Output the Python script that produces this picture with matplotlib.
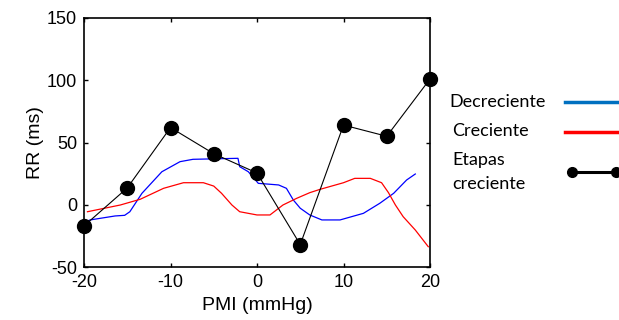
import matplotlib
matplotlib.use("Agg")
import matplotlib.pyplot as plt
from matplotlib.lines import Line2D

plt.rcParams["axes.unicode_minus"] = False

# Pressure steps (mmHg) and RR response (ms) for the stepwise protocol
etapas_pmi = [-20, -15, -10, -5, 0, 5, 10, 15, 20]
etapas_rr = [-17, 13.5, 62, 41, 25.5, -32, 64, 55, 101]

# Continuous ramp, decreasing pressure
dec_pmi = [-19.8, -19.3, -16.4, -15.3, -14.7, -13.3, -11, -8.9, -7.4, -2.2, -2, -1,
           0.15, 2.5, 3.4, 4.2, 5, 6.1, 7.5, 9.6, 12.3, 14.2, 15.8, 17.3, 18.3]
dec_rr = [-14, -12.2, -9, -8.5, -5.6, 9.2, 26.5, 34.6, 36.5, 37.3, 30.6, 26.5,
          17.2, 15.9, 13.2, 3.8, -2.8, -8.2, -12.2, -12.2, -6.9, 1.2, 9.2, 19.9, 24.7]

# Continuous ramp, increasing pressure
cre_pmi = [-19.6, -15.8, -13.5, -10.8, -8.5, -6.2, -5, -4.1, -2.9, -2, 0, 1.5, 3.0,
           4.6, 6.1, 7.3, 10, 11.3, 13.1, 14.4, 15.2, 16, 16.9, 18.3, 19.8]
cre_rr = [-5.6, -0.2, 4.4, 13.2, 17.7, 17.7, 15, 9.2, -0.2, -5.6, -8.2, -8.2, -0.2,
          5.2, 9.7, 12.4, 17.7, 21.2, 21.2, 17.7, 9.7, -0.2, -9.6, -20.3, -33.7]

x_ticks = [-20, -10, 0, 10, 20]
y_ticks = [-50, 0, 50, 100, 150]

W, H = 619, 320
fig = plt.figure(figsize=(W / 100, H / 100), dpi=100)
ax = fig.add_axes([84 / W, 1 - 267 / H, (430 - 84) / W, (267 - 18) / H])

ax.plot(dec_pmi, dec_rr, color="#0000ff", lw=0.9)
ax.plot(cre_pmi, cre_rr, color="#ff0000", lw=0.9)
ax.plot(etapas_pmi, etapas_rr, color="black", lw=0.8, marker="o",
        markersize=10, clip_on=False, zorder=5)

ax.set_xlim(-20, 20)
ax.set_ylim(-50, 150)
ax.set_xticks(x_ticks)
ax.set_yticks(y_ticks)
ax.tick_params(direction="in", length=3, width=1, top=True, right=True,
               labelsize=13, pad=5)
for lab in ax.get_xticklabels() + ax.get_yticklabels():
    lab.set_fontfamily("Liberation Sans")
for s in ax.spines.values():
    s.set_linewidth(1.2)

ax.set_xlabel("PMI (mmHg)", fontsize=14, family="Liberation Sans", labelpad=4)
ax.set_ylabel("RR (ms)", fontsize=14, family="Liberation Sans", labelpad=2)

# Legend: labels on the left, keys on the right
leg_font = dict(family="Lato", fontsize=13, va="center", ha="left")
fig.text(449 / W, 1 - 102 / H, "Decreciente", **leg_font)
fig.text(452 / W, 1 - 131 / H, "Creciente", **leg_font)
fig.text(452 / W, 1 - 172 / H, "Etapas\ncreciente", linespacing=1.55, **leg_font)

fig.add_artist(Line2D([565 / W, 1.0], [1 - 102 / H] * 2, transform=fig.transFigure,
                      color="#0070c0", lw=2.5))
fig.add_artist(Line2D([565 / W, 1.0], [1 - 132 / H] * 2, transform=fig.transFigure,
                      color="#ff0000", lw=2.5))
fig.add_artist(Line2D([572 / W, 616 / W], [1 - 172 / H] * 2, transform=fig.transFigure,
                      color="black", lw=2.2, marker="o", markersize=7))

fig.savefig("out.png", dpi=100)
